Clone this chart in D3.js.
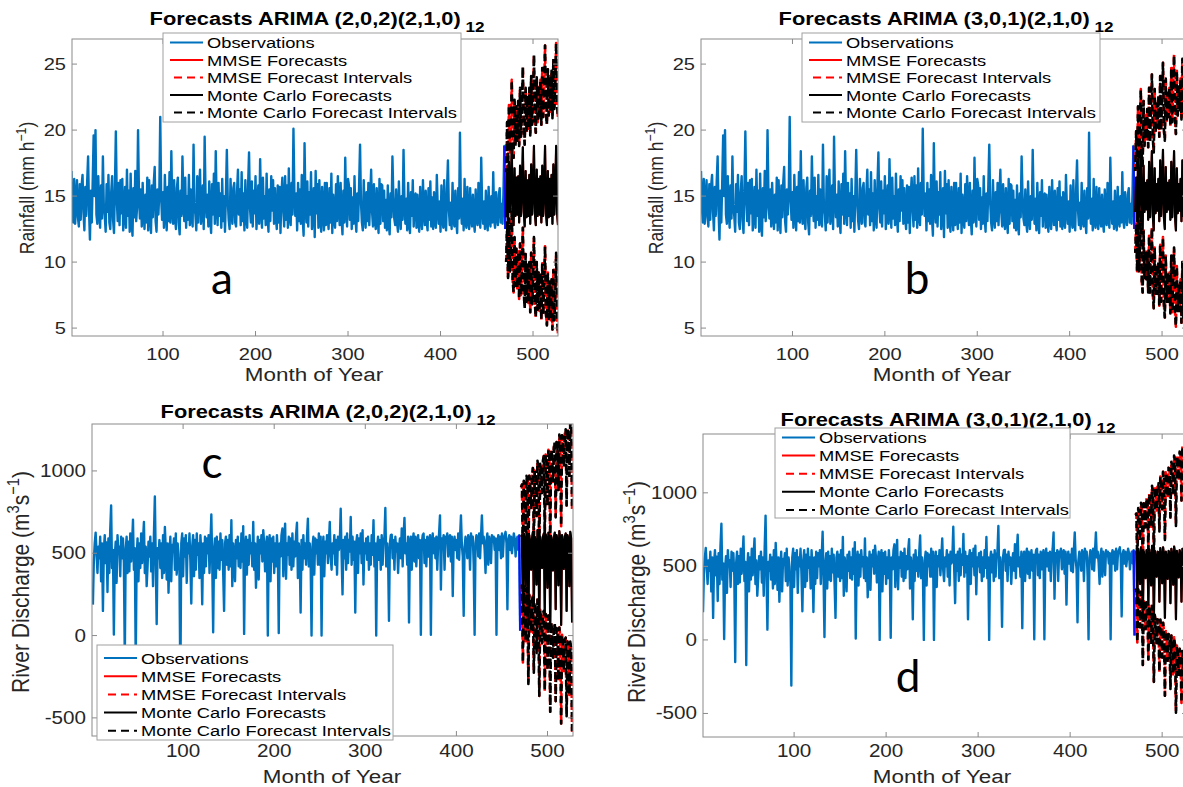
<!DOCTYPE html>
<html><head><meta charset="utf-8">
<script src="https://cdn.jsdelivr.net/npm/d3@7"></script>
<style>body{margin:0;background:#fff}svg{display:block}</style>
</head><body>
<svg id="chart" width="1183" height="787"></svg>
<script>
// ---------------- DATA ----------------
// Monthly rainfall observations (mm h^-1), months 1..470
const rainfallObs = [
16.9,14.1,13.0,16.3,12.9,14.6,16.2,13.4,12.7,15.9,13.2,15.8,
16.6,13.8,12.4,15.7,13.5,16.1,18.0,13.9,11.7,15.4,13.0,16.2,
19.6,15.0,20.0,13.6,12.9,16.5,14.0,12.6,15.8,13.3,18.0,14.2,
13.5,12.3,15.9,13.8,16.6,13.0,12.5,15.3,16.5,13.2,12.2,15.6,
19.9,14.8,13.1,16.0,12.8,16.2,13.7,16.3,12.4,13.9,15.7,12.6,
17.0,13.5,15.4,12.3,16.7,13.2,12.0,15.6,13.4,16.9,13.1,14.2,
20.0,15.1,13.3,15.5,12.7,16.0,13.8,12.5,15.1,13.0,16.4,12.4,
16.2,13.7,12.2,15.8,13.4,16.0,17.2,13.1,12.3,15.5,13.6,15.3,
21.0,14.9,13.2,15.3,12.6,16.6,13.9,12.4,15.7,13.1,16.8,13.0,
18.4,14.0,12.9,16.2,13.3,12.5,15.6,16.4,13.0,12.1,15.4,13.5,
18.0,14.6,13.1,16.4,12.6,15.0,13.2,16.6,12.8,15.5,13.4,12.7,
18.9,14.2,13.6,12.4,16.5,13.0,15.3,17.0,12.9,13.7,15.8,12.5,
19.5,15.0,13.4,15.1,12.7,16.1,13.3,12.2,15.9,13.6,16.7,12.9,
18.4,14.4,12.8,16.0,13.5,15.2,12.6,16.3,13.1,15.0,12.3,15.1,
18.5,14.7,13.2,12.5,16.3,13.8,12.9,15.6,16.0,13.0,12.7,15.3,
17.0,13.6,15.5,12.8,16.8,13.1,15.2,12.4,16.2,13.5,12.6,15.9,
18.3,14.1,13.0,16.1,12.7,15.4,13.7,16.5,12.5,13.9,15.8,12.9,
17.8,14.3,12.6,16.4,13.3,15.0,12.8,16.7,13.6,12.3,15.5,13.1,
16.5,13.9,16.2,12.9,15.6,13.4,12.5,15.8,13.0,15.7,12.2,15.1,
16.4,14.0,12.7,16.5,13.2,15.8,12.6,17.1,13.4,12.8,16.0,13.6,
20.1,15.3,13.5,15.2,12.4,16.0,13.1,15.5,12.9,16.6,13.3,12.0,
19.0,14.4,13.0,16.1,12.7,15.3,13.6,16.8,12.5,13.8,15.6,11.9,
16.9,13.7,15.9,12.6,16.2,13.3,12.3,15.7,13.9,12.4,16.0,12.8,
16.0,13.4,12.5,15.6,13.0,16.7,12.2,15.1,13.5,12.6,15.9,13.1,
16.5,14.2,12.8,16.0,13.3,12.1,15.4,13.0,17.9,14.0,12.7,16.3,
15.8,13.2,15.6,12.5,14.9,12.9,16.5,13.4,12.3,15.2,13.1,15.9,
18.9,14.5,13.0,12.4,16.2,13.6,12.6,15.3,13.1,16.0,12.8,15.0,
17.0,13.8,12.7,15.9,13.2,12.5,15.6,13.5,12.2,16.3,12.9,15.9,
15.8,13.1,15.4,12.6,14.7,12.4,15.8,13.0,12.1,15.2,13.4,18.0,
15.0,13.3,12.8,15.5,13.0,12.3,16.1,13.6,12.5,15.0,13.2,18.5,
14.6,12.9,14.8,12.4,16.0,13.1,12.2,15.3,13.5,16.2,12.7,14.9,
15.2,12.6,15.1,13.0,12.3,15.7,13.3,12.5,16.2,13.8,12.8,15.4,
13.1,12.4,15.6,13.2,16.1,12.7,14.9,12.5,15.3,13.0,12.6,16.6,
14.1,12.9,14.6,12.3,15.8,13.4,12.6,16.2,13.0,12.4,15.5,17.7,
14.0,12.8,14.5,12.5,16.0,13.2,12.7,15.4,13.1,12.2,15.6,13.3,
19.8,14.3,12.9,14.8,12.4,16.3,13.0,12.6,15.7,13.3,12.5,15.6,
13.4,12.7,15.1,13.0,12.3,15.5,13.2,12.8,16.0,13.5,12.6,17.9,
14.2,12.9,14.6,12.5,15.4,13.1,12.4,15.7,13.3,12.7,15.0,13.0,
16.8,13.2,12.6,15.3,13.5,12.8,15.1,15.6,13.0,14.4,12.9,15.2,
18.8,12.5];

// Monthly river discharge observations (m^3 s^-1), months 1..470
const dischargeObs = [
188,450,560,625,500,380,540,470,600,330,560,150,
520,610,440,565,265,590,380,640,790,410,520,6,
480,570,320,610,500,540,360,600,470,590,440,-150,
520,600,380,570,390,620,450,560,704,400,530,-170,
470,590,330,560,410,620,440,580,690,380,540,300,
420,570,480,600,390,560,300,620,845,450,70,530,
470,580,410,560,350,610,380,660,520,340,560,260,
480,600,330,550,510,590,400,620,370,560,500,380,
-310,560,620,360,590,480,610,320,560,500,620,450,
195,540,610,360,580,400,620,490,560,350,610,500,
190,560,380,600,420,590,500,610,380,560,735,440,
20,520,590,350,600,410,570,400,620,460,580,380,
150,560,600,430,580,400,610,420,700,300,560,490,
330,580,470,600,420,560,410,620,450,664,10,520,
600,370,580,430,610,500,560,420,690,400,560,290,
470,600,340,580,500,610,450,640,560,390,540,600,
0,560,610,330,590,450,600,380,560,420,610,500,
15,560,480,610,650,360,580,680,345,560,490,600,
430,590,400,620,420,570,480,610,685,350,560,490,
140,580,400,610,470,560,430,600,710,420,560,450,
0,540,600,370,590,500,580,430,620,430,600,0,
520,600,360,570,500,610,440,560,690,480,400,560,
500,610,430,580,370,600,520,560,770,480,250,580,
470,600,400,620,440,580,510,720,430,600,460,570,
140,560,610,380,590,500,620,440,640,310,560,500,
590,460,600,400,560,430,610,490,700,420,560,0,
540,600,460,580,400,610,430,560,600,775,420,560,
480,90,560,610,613,470,580,400,600,510,560,380,
520,590,470,650,420,600,715,500,560,430,600,80,
560,600,400,570,620,450,600,420,560,610,470,580,
5,560,610,620,440,580,420,600,480,570,610,5,
560,620,500,590,470,600,400,560,620,730,280,590,
560,610,400,600,570,620,480,590,610,450,600,240,
560,600,520,580,470,620,460,600,730,550,480,120,
540,600,560,470,610,580,400,620,570,600,430,5,
560,610,590,480,620,470,600,730,560,600,520,380,
580,620,430,600,560,440,610,570,600,520,590,5,
560,610,520,600,470,620,480,590,610,630,560,160,
580,610,520,600,500,560,620,590,480,570,600,520,
610,30];

// Forecast horizon: months 471..527
const firstForecastMonth = 471;

// (a) Rainfall ARIMA (2,0,2)(2,1,0)12
const mmseForecastA = [13.4,16.8,12.9,17.6,13.8,15.2,18.9,13.6,12.8,17.1,13.5,16.4,
13.6,16.5,13.0,17.3,13.5,15.6,18.7,13.8,12.7,16.9,13.4,16.2,
13.5,16.6,12.9,17.4,13.6,15.4,18.8,13.7,12.8,17.0,13.5,16.3,
13.6,16.5,13.0,17.3,13.5,15.5,18.8,13.7,12.8,16.9,13.4,16.3,
13.5,16.6,12.9,17.4,13.6,15.4,18.8,13.7,12.8];
const mmseUpperA = [16.8,20.6,17.0,21.9,18.3,19.9,23.8,18.6,17.9,22.3,18.8,21.8,
19.2,22.2,18.8,23.2,19.5,21.6,24.8,20.0,18.9,23.2,19.8,22.6,
20.1,23.2,19.6,24.1,20.4,22.2,25.7,20.6,19.8,24.0,20.6,23.4,
20.9,23.8,20.4,24.7,21.0,23.0,26.4,21.3,20.4,24.6,21.1,24.1,
21.4,24.5,20.9,25.4,21.6,23.5,26.6,21.8,21.0];
const mmseLowerA = [10.0,13.0,8.8,13.3,9.3,10.5,14.0,8.6,7.7,11.9,8.2,11.0,
8.0,10.8,7.2,11.4,7.5,9.6,12.6,7.6,6.5,10.6,7.0,9.8,
6.9,10.0,6.2,10.7,6.8,8.6,11.9,6.8,5.8,10.0,6.4,9.2,
6.3,9.2,5.6,9.9,6.0,8.0,11.2,6.1,5.2,9.2,5.7,8.5,
5.6,8.7,4.9,9.4,5.6,7.3,10.7,5.6,4.6];
const mcForecastA = mmseForecastA, mcUpperA = mmseUpperA, mcLowerA = mmseLowerA;

// (b) Rainfall ARIMA (3,0,1)(2,1,0)12
const mmseForecastB = [13.8,16.4,13.1,17.8,13.5,15.6,18.5,13.3,12.5,17.3,13.8,16.0,
14.0,16.2,13.2,17.6,13.4,15.8,18.4,13.5,12.4,17.1,13.7,15.9,
13.9,16.3,13.1,17.7,13.5,15.7,18.5,13.4,12.5,17.2,13.8,16.0,
14.0,16.2,13.2,17.6,13.4,15.8,18.4,13.5,12.4,17.1,13.7,15.9,
13.9,16.3,13.1,17.7,13.5,15.7,18.5,13.4,12.5];
const mmseUpperB = [16.9,19.9,16.9,21.8,17.7,20.0,23.1,18.0,17.3,22.2,18.8,21.1,
19.3,21.6,18.7,23.2,19.1,21.5,24.2,19.4,18.3,23.1,19.8,22.0,
20.2,22.6,19.5,24.1,20.0,22.2,25.1,20.0,19.2,23.9,20.6,22.8,
21.0,23.2,20.3,24.7,20.6,23.0,25.7,20.8,19.7,24.5,21.1,23.4,
21.5,23.9,20.8,25.4,21.2,23.5,26.3,21.2,20.4];
const mmseLowerB = [10.7,12.9,9.3,13.8,9.3,11.2,13.9,8.6,7.7,12.4,8.8,10.9,
8.7,10.8,7.7,12.0,7.7,10.1,12.6,7.6,6.5,11.1,7.6,9.8,
7.6,10.0,6.7,11.3,7.0,9.2,11.9,6.8,5.8,10.5,7.0,9.2,
7.0,9.2,6.1,10.5,6.2,8.6,11.1,6.2,5.1,9.7,6.3,8.4,
6.3,8.7,5.4,10.0,5.8,7.9,10.7,5.6,4.6];
const mcForecastB = mmseForecastB, mcUpperB = mmseUpperB, mcLowerB = mmseLowerB;

// (c) Discharge ARIMA (2,0,2)(2,1,0)12
const mmseForecastC = [600,610,150,620,580,300,630,590,60,610,560,400,
590,630,170,600,570,310,640,580,70,600,550,410,
600,620,140,615,585,290,625,595,55,605,565,395,
595,625,160,610,575,305,635,585,65,610,555,405,
600,620,150,610,580,300,630,590,80];
const mmseUpperC = [900,917,464,940,907,634,971,938,414,971,928,775,
972,1018,565,1002,979,726,1062,1009,506,1043,1000,866,
1063,1090,617,1099,1075,787,1129,1106,573,1129,1096,933,
1140,1177,718,1175,1147,884,1221,1177,664,1216,1168,1025,
1226,1253,790,1257,1234,960,1297,1264,761];
const mmseLowerC = [300,303,-164,300,253,-34,289,242,-294,249,192,25,
208,242,-225,198,161,-106,218,151,-366,157,100,-46,
137,150,-337,131,95,-207,121,84,-463,81,34,-143,
50,73,-398,45,3,-274,49,-7,-534,4,-58,-215,
-26,-13,-490,-37,-74,-360,-37,-84,-585];
const mcForecastC = mmseForecastC, mcUpperC = mmseUpperC, mcLowerC = mmseLowerC;

// (d) Discharge ARIMA (3,0,1)(2,1,0)12
const mmseForecastD = [600,600,250,620,570,380,630,590,150,600,560,420,
610,590,240,615,565,370,640,585,140,605,555,430,
600,595,260,625,570,385,630,580,150,600,560,415,
605,590,250,620,575,375,635,590,140,605,560,425,
610,585,260,620,565,380,630,640,590];
const mmseUpperD = [850,859,518,896,855,674,933,901,470,929,898,766,
965,954,613,996,955,769,1048,1001,565,1039,998,881,
1060,1064,738,1111,1065,889,1143,1101,680,1139,1108,971,
1170,1164,833,1211,1175,984,1253,1216,775,1249,1213,1086,
1280,1264,948,1316,1270,1094,1353,1371,1330];
const mmseLowerD = [350,341,-18,344,285,86,327,279,-170,271,222,74,
255,226,-133,234,175,-29,232,169,-285,171,112,-21,
140,126,-218,139,75,-119,117,59,-380,61,12,-141,
40,16,-333,29,-25,-234,17,-36,-495,-39,-93,-236,
-60,-94,-428,-76,-140,-334,-93,-91,-150];
const mcForecastD = mmseForecastD, mcUpperD = mmseUpperD, mcLowerD = mmseLowerD;

// Tick labels
const monthTicks = [100, 200, 300, 400, 500];
const rainfallTicks = [5, 10, 15, 20, 25];
const dischargeTicks = [-500, 0, 500, 1000];
const legendLabels = ["Observations", "MMSE Forecasts", "MMSE Forecast Intervals",
                      "Monte Carlo Forecasts", "Monte Carlo Forecast Intervals"];
const modelA = "(2,0,2)(2,1,0)", modelB = "(3,0,1)(2,1,0)";

// ---------------- DRAWING ----------------
const svg = d3.select("#chart");
const SX = 1.18;                 // horizontal stretch of glyphs in the reference
const FONT = "'Liberation Sans', Arial, Helvetica, sans-serif";
const C_OBS = "#0072BD", C_RED = "#ff0000", C_BLK = "#000000";

function stext(g, x, y, anchor, size, rot) {
  const grp = g.append("g").attr("transform",
    `translate(${x},${y}) scale(${SX},1)` + (rot ? ` rotate(${rot})` : ""));
  return grp.append("text").attr("text-anchor", anchor)
    .attr("font-family", FONT).attr("font-size", size).attr("fill", "#262626");
}

const panels = [
  { key: "a", obs: rainfallObs, f: mmseForecastA, u: mmseUpperA, l: mmseLowerA,
    mf: mcForecastA, mu: mcUpperA, ml: mcLowerA, model: modelA,
    xr: [72, 558], xd: [1.6, 527], yr: [336, 39], yd: [4.4, 26.9], yt: rainfallTicks,
    ylab: "rain", ylx: 34, yly: 188, ylSize: 17.5, titleX: 317, titleY: 25,
    xlabX: 314, xlabY: 381, tickY: 360, tickSize: 17,
    leg: [163, 33, 298, 89, 9.5, 17.5], letter: [222, 294] },
  { key: "b", obs: rainfallObs, f: mmseForecastB, u: mmseUpperB, l: mmseLowerB,
    mf: mcForecastB, mu: mcUpperB, ml: mcLowerB, model: modelB,
    xr: [701, 1187], xd: [1, 527], yr: [336, 39], yd: [4.4, 26.9], yt: rainfallTicks,
    ylab: "rain", ylx: 663, yly: 188, ylSize: 17.5, titleX: 946, titleY: 25,
    xlabX: 942, xlabY: 381, tickY: 360, tickSize: 17,
    leg: [802, 33, 298, 89, 9.5, 17.5], letter: [917, 294] },
  { key: "c", obs: dischargeObs, f: mmseForecastC, u: mmseUpperC, l: mmseLowerC,
    mf: mcForecastC, mu: mcUpperC, ml: mcLowerC, model: modelA,
    xr: [92, 573], xd: [0, 528], yr: [736, 424], yd: [-610, 1285], yt: dischargeTicks,
    ylab: "dis", ylx: 29, yly: 582, ylSize: 21, titleX: 328, titleY: 418,
    xlabX: 332, xlabY: 783, tickY: 757, tickSize: 17.5,
    leg: [97, 645, 296, 95, 13, 18.2], letter: [212, 478] },
  { key: "d", obs: dischargeObs, f: mmseForecastD, u: mmseUpperD, l: mmseLowerD,
    mf: mcForecastD, mu: mcUpperD, ml: mcLowerD, model: modelB,
    xr: [703, 1187], xd: [1, 527], yr: [737, 434], yd: [-660, 1400], yt: dischargeTicks,
    ylab: "dis", ylx: 645, yly: 592, ylSize: 21, titleX: 948, titleY: 426,
    xlabX: 942, xlabY: 783, tickY: 757, tickSize: 17.5,
    leg: [775, 428, 295, 90, 9.5, 18.1], letter: [908, 692] }
];

panels.forEach((p, pi) => {
  const g = svg.append("g");
  const x = d3.scaleLinear().domain(p.xd).range(p.xr);
  const y = d3.scaleLinear().domain(p.yd).range(p.yr);
  const [L, R] = p.xr, [B, T] = p.yr;

  const clipId = "clip" + pi;
  svg.append("clipPath").attr("id", clipId).append("rect")
    .attr("x", L).attr("y", T).attr("width", R - L).attr("height", B - T);

  const line = d3.line().x(d => x(d.m)).y(d => y(d.v));
  const obsPts = p.obs.map((v, i) => ({ m: i + 1, v }));
  const fm = (arr) => arr.map((v, i) => ({ m: firstForecastMonth + i, v }));

  const data = g.append("g").attr("clip-path", `url(#${clipId})`);
  data.append("path").datum(obsPts).attr("d", line).attr("fill", "none")
    .attr("stroke", C_OBS).attr("stroke-width", 2.4).attr("stroke-linejoin", "round");
  data.append("path").datum(obsPts.slice(-2)).attr("d", line).attr("fill", "none")
    .attr("stroke", "#1010ff").attr("stroke-width", 2.2);

  const drawF = (arr, color, dash, off, w) => {
    const pth = data.append("path").datum(fm(arr)).attr("d", line).attr("fill", "none")
      .attr("stroke", color).attr("stroke-width", w).attr("stroke-linejoin", "round");
    if (dash) pth.attr("stroke-dasharray", dash).attr("stroke-dashoffset", off);
  };
  drawF(p.f, C_RED, null, 0, 2);
  drawF(p.u, C_RED, "7,5", 0, 2.6);
  drawF(p.l, C_RED, "7,5", 0, 2.6);
  drawF(p.mf, C_BLK, null, 0, 2.2);
  drawF(p.mu, C_BLK, "7,5", 3, 2.6);
  drawF(p.ml, C_BLK, "7,5", 3, 2.6);

  // axes box
  const ax = g.append("g").attr("stroke", "#8a8a8a").attr("stroke-width", 1).attr("fill", "none");
  ax.append("rect").attr("x", L).attr("y", T).attr("width", R - L).attr("height", B - T);
  monthTicks.forEach(t => {
    const xx = x(t);
    ax.append("line").attr("x1", xx).attr("x2", xx).attr("y1", B).attr("y2", B - 5);
    ax.append("line").attr("x1", xx).attr("x2", xx).attr("y1", T).attr("y2", T + 5);
    stext(g, xx, p.tickY, "middle", p.tickSize).text(t);
  });
  p.yt.forEach(t => {
    const yy = y(t);
    ax.append("line").attr("x1", L).attr("x2", L + 5).attr("y1", yy).attr("y2", yy);
    ax.append("line").attr("x1", R).attr("x2", R - 5).attr("y1", yy).attr("y2", yy);
    stext(g, L - 6, yy + 6, "end", p.tickSize).text(t);
  });

  // axis labels
  stext(g, p.xlabX, p.xlabY, "middle", 19).text("Month of Year");
  const yl = stext(g, p.ylx, p.yly, "middle", p.ylSize, -90);
  const sup = p.ylSize * 0.7, up = p.ylSize * 0.4;
  if (p.ylab === "rain") {
    yl.append("tspan").text("Rainfall (mm h");
    yl.append("tspan").attr("font-size", sup).attr("dy", -up).text("\u22121");
    yl.append("tspan").attr("dy", up).text(")");
  } else {
    yl.append("tspan").text("River Discharge (m");
    yl.append("tspan").attr("font-size", sup).attr("dy", -up).text("3");
    yl.append("tspan").attr("dy", up).text("s");
    yl.append("tspan").attr("font-size", sup).attr("dy", -up).text("\u22121");
    yl.append("tspan").attr("dy", up).text(")");
  }

  // title
  const tt = stext(g, p.titleX, p.titleY, "middle", 18.5).attr("font-weight", "bold").attr("fill", "#000");
  tt.append("tspan").text("Forecasts ARIMA " + p.model);
  tt.append("tspan").attr("dx", 4).attr("dy", 7).attr("font-size", 14.5).text("12");

  // legend
  const [lx, ly, lw, lh, first, step] = p.leg;
  const lg = g.append("g");
  lg.append("rect").attr("x", lx).attr("y", ly).attr("width", lw).attr("height", lh)
    .attr("fill", "#fff").attr("stroke", "#a0a0a0").attr("stroke-width", 1);
  const styles = [
    { c: C_OBS, dash: null }, { c: C_RED, dash: null }, { c: C_RED, dash: "8,5" },
    { c: C_BLK, dash: null }, { c: C_BLK, dash: "8,5" }];
  legendLabels.forEach((lab, i) => {
    const cy = ly + first + step * i;
    const ln = lg.append("line").attr("x1", lx + 7).attr("x2", lx + 40).attr("y1", cy).attr("y2", cy)
      .attr("stroke", styles[i].c).attr("stroke-width", 2);
    if (styles[i].dash) ln.attr("stroke-dasharray", styles[i].dash).attr("stroke-dashoffset", -4);
    stext(lg, lx + 44, cy + 5.5, "start", 15.5).attr("fill", "#000").text(lab);
  });

  // panel letter
  g.append("text").attr("x", p.letter[0]).attr("y", p.letter[1]).attr("text-anchor", "middle")
    .attr("font-family", "Lato, 'Open Sans', sans-serif").attr("font-size", 44).attr("fill", "#000")
    .text(p.key);
});
</script>
</body></html>
